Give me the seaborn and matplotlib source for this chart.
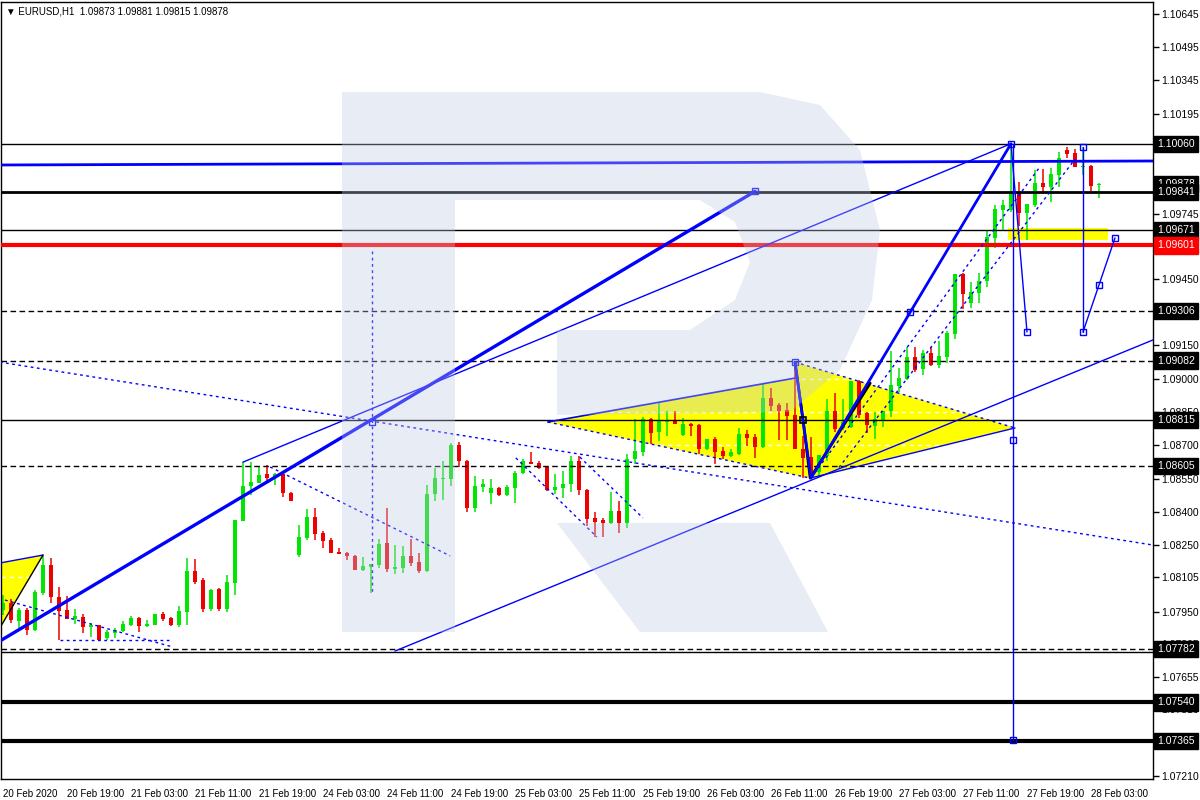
import matplotlib
matplotlib.use("Agg")
import matplotlib.pyplot as plt
from matplotlib.patches import Polygon
import seaborn as sns

# ---- chart data (EURUSD H1) ----
header = "\u25bc EURUSD,H1  1.09873 1.09881 1.09815 1.09878"

opens = [
    1.07957, 1.07988, 1.07907, 1.07957, 1.07867, 1.08034, 1.08160, 1.08016, 1.07957, 1.07916,
    1.07925, 1.07880, 1.07889, 1.07831, 1.07853, 1.07862, 1.07889, 1.07921, 1.07885, 1.07889,
    1.07939, 1.07921, 1.07889, 1.07948, 1.08133, 1.08092, 1.07961, 1.08052, 1.07961, 1.08079,
    1.08358, 1.08516, 1.08530, 1.08570, 1.08552, 1.08570, 1.08485, 1.08205, 1.08281, 1.08376,
    1.08304, 1.08273, 1.08218, 1.08214, 1.08200, 1.08137, 1.08151, 1.08160, 1.08259, 1.08142,
    1.08146, 1.08200, 1.08173, 1.08133, 1.08480, 1.08548, 1.08548, 1.08701, 1.08629, 1.08417,
    1.08512, 1.08485, 1.08507, 1.08476, 1.08507, 1.08575, 1.08624, 1.08620, 1.08602, 1.08498,
    1.08507, 1.08525, 1.08629, 1.08498, 1.08372, 1.08363, 1.08349, 1.08403, 1.08349, 1.08638,
    1.08669, 1.08818, 1.08759, 1.08805, 1.08809, 1.08746, 1.08796, 1.08791, 1.08683, 1.08728,
    1.08674, 1.08651, 1.08660, 1.08751, 1.08737, 1.08692, 1.08913, 1.08881, 1.08859, 1.08836,
    1.08683, 1.08647, 1.08579, 1.08651, 1.08854, 1.08778, 1.08782, 1.08990, 1.08845, 1.08787,
    1.08814, 1.08854, 1.08967, 1.08999, 1.09098, 1.09044, 1.09116, 1.09062, 1.09098, 1.09202,
    1.09472, 1.09341, 1.09387, 1.09441, 1.09635, 1.09761, 1.09761, 1.09838, 1.09747, 1.09783,
    1.09883, 1.09865, 1.09919, 1.10031, 1.10018, 1.09955, 1.09959, 1.09873]
highs = [
    1.08025, 1.08007, 1.07966, 1.07966, 1.08047, 1.08205, 1.08191, 1.08061, 1.08020, 1.07961,
    1.07939, 1.07898, 1.07889, 1.07867, 1.07876, 1.07907, 1.07930, 1.07925, 1.07912, 1.07939,
    1.07948, 1.07925, 1.07975, 1.08191, 1.08187, 1.08101, 1.08052, 1.08056, 1.08115, 1.08363,
    1.08624, 1.08624, 1.08602, 1.08611, 1.08575, 1.08579, 1.08489, 1.08340, 1.08412, 1.08417,
    1.08313, 1.08281, 1.08237, 1.08218, 1.08205, 1.08196, 1.08164, 1.08277, 1.08417, 1.08250,
    1.08246, 1.08277, 1.08214, 1.08521, 1.08597, 1.08629, 1.08710, 1.08715, 1.08633, 1.08561,
    1.08548, 1.08548, 1.08512, 1.08521, 1.08584, 1.08638, 1.08669, 1.08629, 1.08606, 1.08570,
    1.08584, 1.08651, 1.08651, 1.08503, 1.08399, 1.08372, 1.08489, 1.08448, 1.08660, 1.08818,
    1.08827, 1.08823, 1.08895, 1.08854, 1.08854, 1.08823, 1.08800, 1.08796, 1.08728, 1.08737,
    1.08692, 1.08683, 1.08778, 1.08769, 1.08751, 1.08976, 1.08958, 1.08890, 1.08890, 1.09075,
    1.08742, 1.08737, 1.08656, 1.08909, 1.08936, 1.08909, 1.08990, 1.08995, 1.08850, 1.08850,
    1.08854, 1.09125, 1.09048, 1.09143, 1.09143, 1.09130, 1.09143, 1.09170, 1.09216, 1.09472,
    1.09477, 1.09436, 1.09477, 1.09671, 1.09784, 1.09806, 1.10060, 1.09887, 1.09788, 1.09941,
    1.09946, 1.09950, 1.10022, 1.10045, 1.10036, 1.10045, 1.09964, 1.09881]
lows = [
    1.07934, 1.07898, 1.07862, 1.07844, 1.07862, 1.08025, 1.07988, 1.07822, 1.07916, 1.07894,
    1.07853, 1.07835, 1.07822, 1.07822, 1.07831, 1.07858, 1.07885, 1.07858, 1.07880, 1.07889,
    1.07907, 1.07885, 1.07880, 1.07889, 1.08074, 1.07948, 1.07952, 1.07952, 1.07948, 1.08025,
    1.08358, 1.08476, 1.08530, 1.08530, 1.08521, 1.08467, 1.08448, 1.08196, 1.08273, 1.08273,
    1.08237, 1.08214, 1.08209, 1.08182, 1.08137, 1.08133, 1.08034, 1.08146, 1.08128, 1.08119,
    1.08124, 1.08155, 1.08124, 1.08128, 1.08448, 1.08453, 1.08516, 1.08602, 1.08399, 1.08399,
    1.08489, 1.08435, 1.08471, 1.08471, 1.08439, 1.08570, 1.08615, 1.08593, 1.08494, 1.08480,
    1.08462, 1.08489, 1.08476, 1.08336, 1.08286, 1.08286, 1.08345, 1.08304, 1.08327, 1.08615,
    1.08651, 1.08706, 1.08719, 1.08742, 1.08796, 1.08742, 1.08742, 1.08660, 1.08678, 1.08615,
    1.08638, 1.08647, 1.08656, 1.08697, 1.08642, 1.08687, 1.08854, 1.08724, 1.08724, 1.08683,
    1.08552, 1.08552, 1.08557, 1.08629, 1.08759, 1.08769, 1.08778, 1.08823, 1.08755, 1.08728,
    1.08782, 1.08827, 1.08940, 1.08995, 1.09030, 1.09017, 1.09057, 1.09048, 1.09071, 1.09179,
    1.09314, 1.09319, 1.09341, 1.09414, 1.09590, 1.09671, 1.09752, 1.09691, 1.09626, 1.09774,
    1.09842, 1.09797, 1.09865, 1.09995, 1.09955, 1.09919, 1.09847, 1.09815]
closes = [
    1.07988, 1.07912, 1.07957, 1.07867, 1.08038, 1.08160, 1.08016, 1.07952, 1.07916, 1.07930,
    1.07880, 1.07889, 1.07822, 1.07858, 1.07867, 1.07894, 1.07921, 1.07885, 1.07894, 1.07939,
    1.07916, 1.07889, 1.07952, 1.08133, 1.08083, 1.07961, 1.08047, 1.07961, 1.08083, 1.08363,
    1.08516, 1.08534, 1.08566, 1.08552, 1.08570, 1.08485, 1.08448, 1.08286, 1.08376, 1.08300,
    1.08268, 1.08214, 1.08209, 1.08200, 1.08137, 1.08155, 1.08164, 1.08255, 1.08142, 1.08151,
    1.08200, 1.08169, 1.08133, 1.08480, 1.08552, 1.08552, 1.08701, 1.08629, 1.08417, 1.08516,
    1.08525, 1.08507, 1.08476, 1.08512, 1.08575, 1.08629, 1.08615, 1.08597, 1.08498, 1.08512,
    1.08525, 1.08629, 1.08498, 1.08368, 1.08354, 1.08349, 1.08403, 1.08349, 1.08638, 1.08674,
    1.08818, 1.08755, 1.08809, 1.08809, 1.08796, 1.08796, 1.08787, 1.08683, 1.08728, 1.08669,
    1.08651, 1.08669, 1.08751, 1.08733, 1.08692, 1.08913, 1.08877, 1.08854, 1.08832, 1.08683,
    1.08642, 1.08579, 1.08656, 1.08854, 1.08773, 1.08805, 1.08990, 1.08836, 1.08791, 1.08818,
    1.08854, 1.08972, 1.09004, 1.09098, 1.09039, 1.09116, 1.09062, 1.09102, 1.09207, 1.09472,
    1.09382, 1.09391, 1.09441, 1.09639, 1.09765, 1.09784, 1.09838, 1.09747, 1.09788, 1.09883,
    1.09865, 1.09923, 1.09995, 1.10013, 1.09955, 1.09959, 1.09869, 1.09878]

time_labels = ["20 Feb 2020", "20 Feb 19:00", "21 Feb 03:00", "21 Feb 11:00", "21 Feb 19:00",
               "24 Feb 03:00", "24 Feb 11:00", "24 Feb 19:00", "25 Feb 03:00", "25 Feb 11:00",
               "25 Feb 19:00", "26 Feb 03:00", "26 Feb 11:00", "26 Feb 19:00", "27 Feb 03:00",
               "27 Feb 11:00", "27 Feb 19:00", "28 Feb 03:00"]

price_ticks = [1.10645, 1.10495, 1.10345, 1.10195, 1.10045, 1.09895, 1.09745, 1.09595,
               1.09450, 1.09300, 1.09150, 1.09000, 1.08850, 1.08700, 1.08550, 1.08400,
               1.08250, 1.08105, 1.07950, 1.07805, 1.07655, 1.07510, 1.07360, 1.07210]

# horizontal levels drawn on the chart
level_prices = [1.10060, 1.09841, 1.09671, 1.09601, 1.09306, 1.09082, 1.08815, 1.08605,
                1.07782, 1.07768, 1.07540, 1.07365]
level_kinds = ["thin", "bold", "thin", "red", "dash", "dash", "thin", "dash",
               "dash", "thin", "heavy", "heavy"]

# price boxes on the right scale
box_prices = [1.10060, 1.09878, 1.09841, 1.09671, 1.09601, 1.09306, 1.09082, 1.08815,
              1.08605, 1.07782, 1.07540, 1.07365]

# drawn objects, anchors as (bar, price)
main_trend = [(-0.4, 1.07817), (94, 1.09845)]
upper_channel = [(30, 1.08624), (126, 1.10060)]
lower_channel = [(49, 1.07772), (143.75, 1.09175)]
blue_flat = [(-0.4, 1.09964), (143.75, 1.09982)]
long_dotted = [(-0.4, 1.09075), (143.75, 1.08250)]
short_dotted = [
    [(33.4, 1.08602), (55.9, 1.08201)],
    [(64.1, 1.08643), (74.25, 1.08286)],
    [(72.1, 1.08647), (80.0, 1.08372)],
    [(0.25, 1.08002), (21.25, 1.07790)],
    [(7.1, 1.07822), (21.1, 1.07822)],
    [(101, 1.08552), (129.5, 1.09950)],
    [(104.5, 1.08600), (134, 1.09990)],
]
zigzag = [(99, 1.09075), (101, 1.08552), (126, 1.10060)]
black_wave = [(99, 1.09075), (100, 1.08814), (100.9, 1.08552), (108.4, 1.08980)]
fan_down = [(126, 1.10060), (128, 1.09211)]
fan_vertical = [(126.25, 1.10060), (126.25, 1.07371)]
late_vertical = [(135, 1.10045), (135, 1.09211)]
late_path = [(135, 1.09211), (137, 1.09423), (139, 1.09635)]
triangle_left = [(-0.4, 1.08169), (5, 1.08205), (-0.4, 1.07876)]
triangle_a = [(68.1, 1.08805), (99, 1.09003), (100.9, 1.08552)]
triangle_b = [(99, 1.09075), (126.5, 1.08778), (100.9, 1.08552)]
yellow_box = [(125.6, 1.09680), (138.1, 1.09626)]
range_marker = [(46.1, 1.09576), (46.1, 1.08038)]
squares = [(46.1, 1.08805), (94, 1.09847), (99, 1.09075), (113.4, 1.09301), (126, 1.10060),
           (128, 1.09211), (135, 1.09211), (137, 1.09423), (139, 1.09635), (126.25, 1.08724),
           (126.25, 1.07371), (135, 1.10045)]

# ---- figure ----
sns.set_theme(style="white")
plt.rcParams["font.family"] = ["Liberation Sans", "DejaVu Sans"]

W, H = 1200, 800
fig = plt.figure(figsize=(12, 8), dpi=100)
ax = fig.add_axes([1 / W, 21 / H, 1152 / W, 777 / H])
ax.set_xlim(-0.25, 143.75)
ax.set_ylim(1.07195, 1.10699)

BLUE = "#0000ff"
GREEN = "#00e600"
RED = "#ee0000"
YELLOW = "#ffff00"


def fig_px(pts):
    return [(x / W, 1 - y / H) for x, y in pts]


def xs(pts):
    return [p[0] for p in pts]


def ys(pts):
    return [p[1] for p in pts]


# background logo "R" (watermark)
logo_col = (0.75, 0.79, 0.89, 0.35)
logo_parts = [
    [(342, 92), (455, 92), (455, 632), (342, 632)],
    [(455, 92), (760, 92), (820, 105), (860, 150), (880, 230), (872, 300), (840, 370),
     (790, 412), (557, 415), (557, 330), (690, 330), (735, 300), (750, 262), (735, 222),
     (700, 200), (455, 200)],
    [(557, 523), (770, 523), (828, 632), (640, 632)],
]
for part in logo_parts:
    fig.add_artist(Polygon(fig_px(part), closed=True, transform=fig.transFigure,
                           facecolor=logo_col, edgecolor="none", zorder=1.3))

# yellow triangles and box
for tri in (triangle_left, triangle_a, triangle_b):
    ax.add_patch(Polygon(tri, closed=True, facecolor=YELLOW, edgecolor="none", zorder=1))
ax.fill_between(xs(yellow_box), yellow_box[1][1], yellow_box[0][1], color=YELLOW, lw=0, zorder=1)

# white grid (visible only over yellow)
for p in price_ticks:
    ax.axhline(p, color="white", lw=1, ls=(0, (3, 3)), zorder=1.2)

# candles
x = list(range(len(opens)))
colors = [GREEN if c >= o else RED for o, c in zip(opens, closes)]
bottoms = [min(o, c) for o, c in zip(opens, closes)]
heights = [max(abs(c - o), 0.00003) for o, c in zip(opens, closes)]
ax.vlines(x, lows, highs, colors=colors, lw=1.1, zorder=2)
ax.bar(x, heights, bottom=bottoms, width=0.62, color=colors, lw=0, zorder=2.1)

# horizontal levels
level_style = {
    "thin": dict(color="black", lw=1.0, ls="-"),
    "bold": dict(color="black", lw=2.0, ls="-"),
    "red": dict(color="#ff0000", lw=3.0, ls="-"),
    "dash": dict(color="black", lw=1.0, ls=(0, (4, 2.5))),
    "heavy": dict(color="black", lw=3.0, ls="-"),
}
for p, k in zip(level_prices, level_kinds):
    ax.axhline(p, zorder=3, **level_style[k])

# trend lines
ax.plot(xs(main_trend), ys(main_trend), color=BLUE, lw=2.4, zorder=3.2)
ax.plot(xs(upper_channel), ys(upper_channel), color=BLUE, lw=1.0, zorder=3.2)
ax.plot(xs(lower_channel), ys(lower_channel), color=BLUE, lw=1.0, zorder=3.2)
ax.plot(xs(blue_flat), ys(blue_flat), color=BLUE, lw=2.0, zorder=3.2)
ax.plot(xs(long_dotted), ys(long_dotted), color=BLUE, lw=1.0, ls=(0, (2, 2.5)), zorder=3.2)
for seg in short_dotted:
    ax.plot(xs(seg), ys(seg), color=BLUE, lw=1.0, ls=(0, (2, 2.5)), zorder=3.2)
ax.plot(xs(black_wave), ys(black_wave), color="black", lw=2.0, zorder=3.25)
ax.plot(xs(zigzag), ys(zigzag), color=BLUE, lw=2.0, zorder=3.3)
ax.plot(xs(fan_down), ys(fan_down), color=BLUE, lw=1.0, zorder=3.2)
ax.plot(xs(fan_vertical), ys(fan_vertical), color=BLUE, lw=1.0, zorder=3.2)
ax.plot(xs(late_vertical), ys(late_vertical), color=BLUE, lw=1.0, zorder=3.2)
ax.plot(xs(late_path), ys(late_path), color=BLUE, lw=1.0, zorder=3.2)
ax.plot(xs(range_marker), ys(range_marker), color=BLUE, lw=1.0, ls=(0, (2, 2.5)), zorder=3.2)

# triangle edges
ax.plot(xs(triangle_left[:2]), ys(triangle_left[:2]), color=BLUE, lw=1.0, zorder=3.2)
ax.plot([triangle_left[1][0], triangle_left[2][0]], [triangle_left[1][1], triangle_left[2][1]],
        color="black", lw=1.0, zorder=3.2)
ax.plot(xs(triangle_a[:2]), ys(triangle_a[:2]), color=BLUE, lw=1.2, zorder=3.2)
ax.plot([triangle_a[0][0], triangle_a[2][0]], [triangle_a[0][1], triangle_a[2][1]],
        color=BLUE, lw=1.0, ls=(0, (2, 2.5)), zorder=3.2)
ax.plot(xs(triangle_b[:2]), ys(triangle_b[:2]), color=BLUE, lw=1.0, ls=(0, (2, 2.5)), zorder=3.2)
ax.plot(xs(triangle_b[1:]), ys(triangle_b[1:]), color=BLUE, lw=1.0, zorder=3.2)

ax.plot(xs(squares), ys(squares), ls="none", marker="s", ms=4.5, mfc="none",
        mec=BLUE, mew=1.0, zorder=3.5)
ax.plot([black_wave[1][0]], [black_wave[1][1]], ls="none", marker="s", ms=4.5, mfc="none",
        mec="black", mew=1.2, zorder=3.5)

# axes styling
for side in ("top", "left", "right", "bottom"):
    ax.spines[side].set_color("black")
    ax.spines[side].set_linewidth(1.0)

ax.set_xticks(list(range(0, 8 * len(time_labels), 8)))
ax.set_xticklabels(time_labels)
for lbl in ax.get_xticklabels():
    lbl.set_horizontalalignment("left")
ax.tick_params(axis="x", direction="out", length=5, width=1, labelsize=7, pad=2, colors="black")

ax.yaxis.tick_right()
ax.set_yticks(price_ticks)
ax.set_yticklabels([f"{p:.5f}" for p in price_ticks])
ax.tick_params(axis="y", direction="out", length=4, width=1, labelsize=7.5, pad=2, colors="black")

for p in box_prices:
    fc = "#ff0000" if abs(p - 1.09601) < 1e-6 else "black"
    ax.annotate(f"{p:.5f}", xy=(1, p), xycoords=("axes fraction", "data"),
                xytext=(4, 0), textcoords="offset pixels", ha="left", va="center",
                color="white", fontsize=7.5, annotation_clip=False, zorder=10,
                bbox=dict(boxstyle="square,pad=0.3", fc=fc, ec=fc))

fig.text(6 / W, 1 - 11 / H, header, fontsize=7, va="center", ha="left", color="black")

fig.savefig("out.png", dpi=100, facecolor="white")
